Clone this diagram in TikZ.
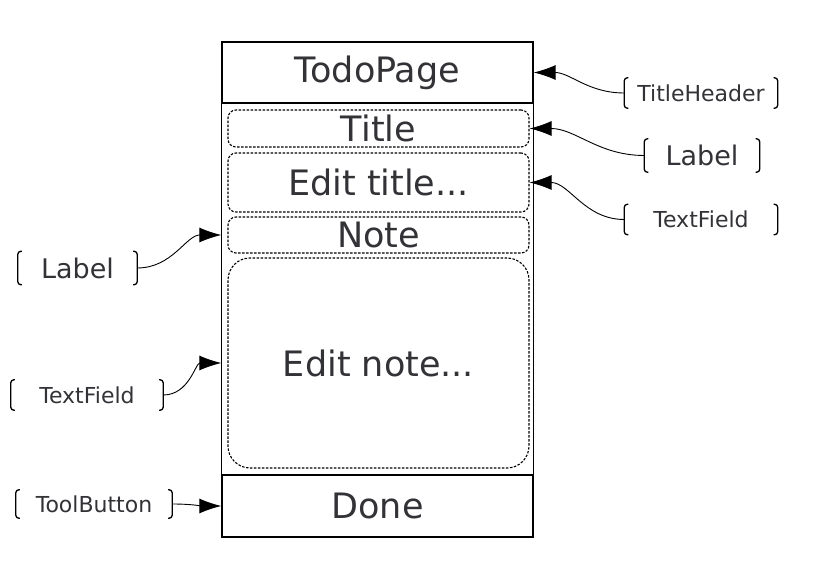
\documentclass[tikz,border=0pt]{standalone}
\usepackage{fontspec}
\setmainfont{DejaVu Sans}
\usetikzlibrary{arrows.meta}
\definecolor{ink}{RGB}{50,50,55}

\tikzset{
  frame/.style={draw, line width=1.3pt, minimum width=311pt, inner sep=0pt, text=ink, font=\fontsize{35}{40}\selectfont},
  field/.style={draw, line width=1.1pt, dash pattern=on 2.5pt off 1.5pt, rounded corners=8pt, minimum width=301pt, inner sep=0pt, text=ink, font=\fontsize{35}{40}\selectfont},
  tag/.style={inner sep=0pt, minimum height=30pt, text=ink, font=\fontsize{22}{26}\selectfont},
  bigtag/.style={tag, minimum height=33pt, font=\fontsize{27}{31}\selectfont},
  brk/.style={line width=1.3pt, rounded corners=3pt},
  conn/.style={line width=0.9pt, -{Latex[length=22pt,width=15pt]}}
}

\begin{document}
\begin{tikzpicture}[x=1pt,y=-1pt]
\useasboundingbox (0,0) rectangle (820,580);
% page frame
\node[frame, minimum height=61pt] (header) at (377.5,72.5) {TodoPage};
\node[frame, minimum height=62pt] (done) at (377.5,506) {Done};
\draw[line width=1.3pt] (header.north west) rectangle (done.south east);
% fields
\node[field, minimum height=37pt] (title) at (378.5,128.5) {Title};
\node[field, minimum height=59pt] (edittitle) at (378.5,182.5) {Edit title...};
\node[field, minimum height=36pt] (note) at (378.5,235) {Note};
\node[field, minimum height=210pt, rounded corners=22pt] (editnote) at (378.5,363) {Edit note...};
% annotations
\node[tag, minimum width=153pt] (thdr) at (701,93) {TitleHeader};
\node[bigtag, minimum width=115pt] (lblr) at (702,155.5) {Label};
\node[tag, minimum width=153pt] (tfr) at (701,219.5) {TextField};
\node[bigtag, minimum width=119pt] (lbll) at (77.5,268) {Label};
\node[tag, minimum width=152pt] (tfl) at (87,395) {TextField};
\node[tag, minimum width=156pt, minimum height=28pt] (tbtn) at (94,504) {ToolButton};
\foreach \n in {thdr,lblr,tfr,lbll,tfl,tbtn} {
  \draw[brk] ([xshift=4pt]\n.north west) -- (\n.north west) -- (\n.south west) -- ([xshift=4pt]\n.south west);
  \draw[brk] ([xshift=-4pt]\n.north east) -- (\n.north east) -- (\n.south east) -- ([xshift=-4pt]\n.south east);
}
% connectors
\draw[conn] (thdr.west) to[out=180,in=0] (header.east);
\draw[conn] (lblr.west) to[out=180,in=0] (title.east);
\draw[conn] (tfr.west) to[out=180,in=0] (edittitle.east);
\draw[conn] (lbll.east) to[out=0,in=180] (note.west -| done.west);
\draw[conn] (tfl.east) to[out=0,in=180] (editnote.west -| done.west);
\draw[conn] (tbtn.east) to[out=0,in=180] (done.west);
\end{tikzpicture}
\end{document}
